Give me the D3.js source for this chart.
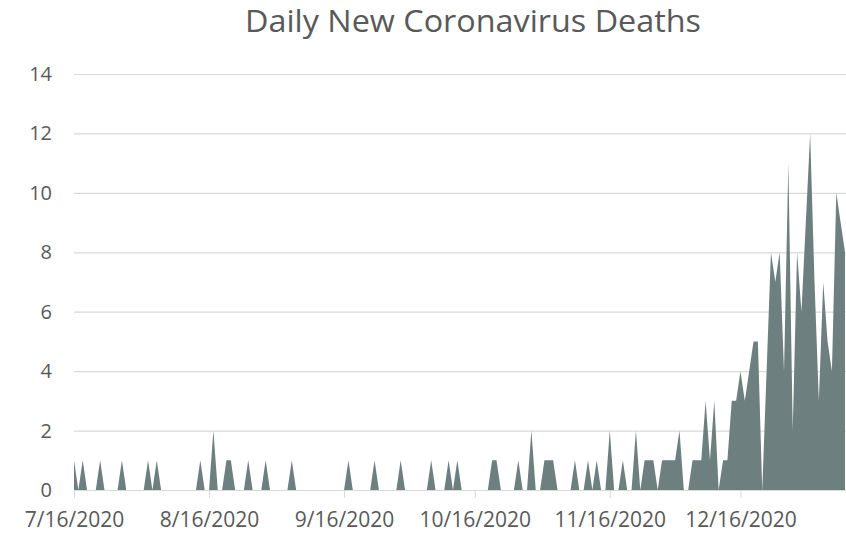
<!DOCTYPE html>
<html>
<head>
<meta charset="utf-8">
<script src="https://cdn.jsdelivr.net/npm/d3@7"></script>
<style>
  html, body { margin: 0; padding: 0; background: #fff; }
  text { font-family: "Open Sans", sans-serif; fill: #595959; }
</style>
</head>
<body>
<div class="chart"></div>
<script>
// daily deaths, one value per day starting 7/16/2020
var startDate = "2020-07-16";
var julyDeaths = [1,0,1,0,0,0,1,0,0,0,0,1,0,0,0,0];
var augustDeaths = [0,1,0,1,0,0,0,0,0,0,0,0,0,1,0,0,2,0,0,1,1,0,0,0,1,0,0,0,1,0,0];
var septemberDeaths = [0,0,0,1,0,0,0,0,0,0,0,0,0,0,0,0,1,0,0,0,0,0,1,0,0,0,0,0,1,0];
var octoberDeaths = [0,0,0,0,0,1,0,0,0,1,0,1,0,0,0,0,0,0,0,1,1,0,0,0,0,1,0,0,2,0,0];
var novemberDeaths = [1,1,1,0,0,0,0,1,0,0,1,0,1,0,0,2,0,0,1,0,0,2,0,1,1,1,0,1,1,1];
var decemberDeaths = [1,2,0,0,1,1,1,3,1,3,0,1,1,3,3,4,3,4,5,5,0,4,8,7,8,4,11,2,8,6,9];
var januaryDeaths = [12,7,3,7,5,4,10,9,8];

var tickDates = ["2020-07-16", "2020-08-16", "2020-09-16", "2020-10-16", "2020-11-16", "2020-12-16"];
var yTicks = [0, 2, 4, 6, 8, 10, 12, 14];

var svgWidth = 846;
var svgHeight = 533;

var parseDate = d3.timeParse("%Y-%m-%d");

var allDeaths = [].concat(julyDeaths, augustDeaths, septemberDeaths,
  octoberDeaths, novemberDeaths, decemberDeaths, januaryDeaths);

var data = allDeaths.map(function(v, i) {
  return { date: d3.timeDay.offset(parseDate(startDate), i), deaths: v };
});

var svg = d3.select(".chart")
  .append("svg")
  .attr("width", svgWidth)
  .attr("height", svgHeight);

var xScale = d3.scaleTime()
  .domain(d3.extent(data, d => d.date))
  .range([74, 845]);

var yScale = d3.scaleLinear()
  .domain([0, 14])
  .range([490, 74]);

// gridlines
svg.append("g")
  .selectAll("line")
  .data(yTicks)
  .enter()
  .append("line")
  .attr("x1", 74)
  .attr("x2", svgWidth)
  .attr("y1", d => yScale(d) + 0.5)
  .attr("y2", d => yScale(d) + 0.5)
  .attr("stroke", "#d9d9d9")
  .attr("stroke-width", 1.2);

// y labels
svg.append("g")
  .selectAll("text")
  .data(yTicks)
  .enter()
  .append("text")
  .attr("x", 52)
  .attr("y", d => yScale(d))
  .attr("dy", "0.35em")
  .attr("text-anchor", "end")
  .style("font-size", "20px")
  .text(d => d);

// area
var area = d3.area()
  .x(d => xScale(d.date))
  .y0(yScale(0))
  .y1(d => yScale(d.deaths));

svg.append("path")
  .datum(data)
  .attr("d", area)
  .attr("fill", "#6e7f80");

// x axis
var bottomAxis = d3.axisBottom(xScale)
  .tickValues(tickDates.map(parseDate))
  .tickFormat(d3.timeFormat("%-m/%-d/%Y"))
  .tickSize(8)
  .tickPadding(14);

var xAxis = svg.append("g")
  .attr("transform", "translate(0, 490)")
  .call(bottomAxis);

xAxis.select(".domain")
  .attr("stroke", "#d9d9d9")
  .attr("d", "M74,0.5H" + svgWidth);
xAxis.selectAll(".tick line").attr("stroke", "#d9d9d9");
xAxis.selectAll(".tick text")
  .style("font-size", "21px")
  .style("font-family", "'Open Sans', sans-serif")
  .attr("fill", "#595959");

// title
svg.append("text")
  .attr("x", 473)
  .attr("y", 32)
  .attr("text-anchor", "middle")
  .style("font-size", "31px")
  .attr("textLength", 456)
  .attr("lengthAdjust", "spacingAndGlyphs")
  .text("Daily New Coronavirus Deaths");
</script>
</body>
</html>
